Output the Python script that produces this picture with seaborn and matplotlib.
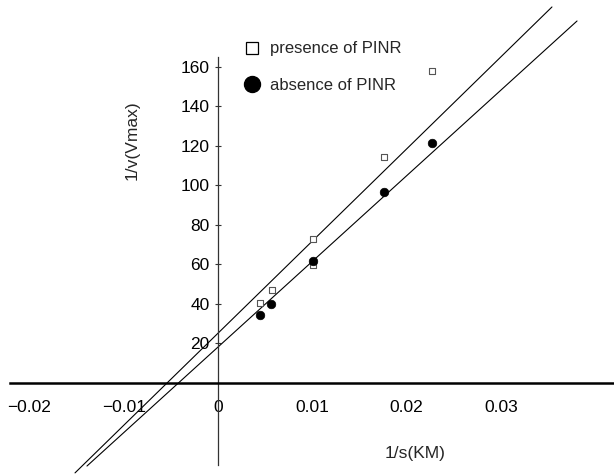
import numpy as np
import pandas as pd
import matplotlib
matplotlib.use("Agg")
import matplotlib.pyplot as plt
from matplotlib.lines import Line2D
import seaborn as sns

# ---- data ----
presence_x = [0.00446, 0.00573, 0.01008, 0.01008, 0.01761, 0.02270]
presence_y = [40.5, 47.1, 72.9, 59.7, 114.4, 157.9]
absence_x = [0.00446, 0.00562, 0.01008, 0.01761, 0.02270]
absence_y = [34.4, 40.0, 61.7, 96.7, 121.5]

# drawn fit lines: slope, intercept, x-range
presence_fit = {"slope": 4660.0, "intercept": 25.2, "x_range": (-0.01517, 0.03543)}
absence_fit = {"slope": 4332.0, "intercept": 18.2, "x_range": (-0.01390, 0.03809)}

x_ticks = [-0.02, -0.01, 0, 0.01, 0.02, 0.03]
x_tick_labels = ["\u22120.02", "\u22120.01", "0", "0.01", "0.02", "0.03"]
y_ticks = [20, 40, 60, 80, 100, 120, 140, 160]
y_tick_labels = [str(v) for v in y_ticks]
series_labels = ["presence of PINR", "absence of PINR"]
x_label = "1/s(KM)"
y_label = "1/v(Vmax)"

# ---- styling ----
sns.set_theme(style="white")
plt.rcParams["font.family"] = ["Liberation Sans", "DejaVu Sans"]

fig = plt.figure(figsize=(6.14, 4.75), dpi=100)
ax = fig.add_axes([0, 0, 1, 1])

pres_df = pd.DataFrame({"x": presence_x, "y": presence_y})
abs_df = pd.DataFrame({"x": absence_x, "y": absence_y})

def fit_df(fit):
    xs = np.array(fit["x_range"])
    return pd.DataFrame({"x": xs, "y": fit["slope"] * xs + fit["intercept"]})

sns.lineplot(data=fit_df(presence_fit), x="x", y="y", ax=ax, color="black",
             linewidth=0.8, legend=False)
sns.lineplot(data=fit_df(absence_fit), x="x", y="y", ax=ax, color="black",
             linewidth=0.8, legend=False)

sns.scatterplot(data=pres_df, x="x", y="y", ax=ax, marker="s", s=22,
                facecolor="white", edgecolor="#555555", linewidth=0.8, zorder=3)
sns.scatterplot(data=abs_df, x="x", y="y", ax=ax, marker="o", s=38,
                color="black", edgecolor="black", linewidth=0.5, zorder=4)

ax.set_xlim(-0.023128, 0.042012)
ax.set_ylim(-46.56, 193.83)

for side in ["top", "right"]:
    ax.spines[side].set_visible(False)
ax.spines["left"].set_position(("data", 0))
ax.spines["bottom"].set_position(("data", 0))
ax.spines["left"].set_bounds(-41.5, 165)
ax.spines["bottom"].set_bounds(-0.02207, 0.042012)
ax.spines["bottom"].set_linewidth(1.8)
ax.spines["bottom"].set_color("black")
ax.spines["left"].set_linewidth(0.9)
ax.spines["left"].set_color("#333333")

ax.set_xticks(x_ticks)
ax.set_xticklabels(x_tick_labels, fontsize=12.5)
ax.set_yticks(y_ticks)
ax.set_yticklabels(y_tick_labels, fontsize=12.5)
ax.tick_params(axis="x", length=0, pad=12, colors="black")
ax.tick_params(axis="y", direction="inout", length=4, width=0.8,
               color="#333333", labelcolor="black", pad=4, left=True)

ax.set_xlabel(x_label, fontsize=12.5)
ax.set_ylabel(y_label, fontsize=12.5)
ax.xaxis.set_label_coords(415 / 614, 1 - 446 / 475)
ax.yaxis.set_label_coords(140 / 614, 1 - 140 / 475)

handles = [
    Line2D([], [], marker="s", linestyle="none", markersize=8.6,
           markerfacecolor="white", markeredgecolor="black", markeredgewidth=0.9),
    Line2D([], [], marker="o", linestyle="none", markersize=11.5,
           markerfacecolor="black", markeredgecolor="black"),
]
ax.legend(handles, series_labels, loc="upper left",
          bbox_to_anchor=(243.7 / 614, 1 - 41.5 / 475), frameon=False,
          fontsize=12, handlelength=1.0, handletextpad=0.6,
          labelspacing=1.3, borderpad=0, borderaxespad=0)

fig.savefig("out.png", dpi=100)
